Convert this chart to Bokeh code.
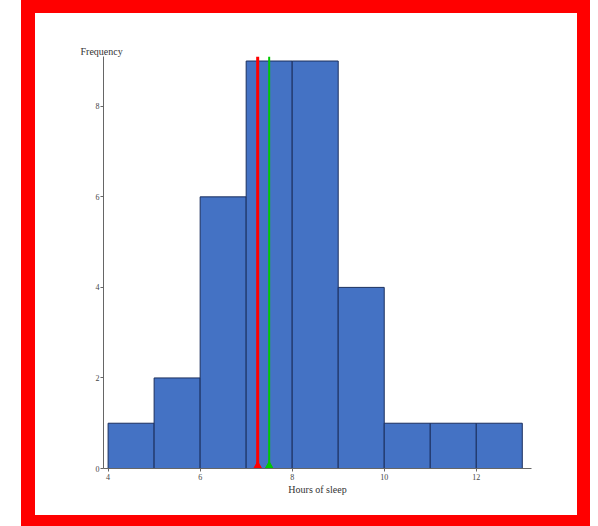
from bokeh.plotting import figure
from bokeh.layouts import column
from bokeh.models import FixedTicker, Title, Range1d
from bokeh.embed import file_html
from bokeh.resources import INLINE

# ---- data ----
bin_left = [4, 5, 6, 7, 8, 9, 10, 11, 12]
bin_right = [5, 6, 7, 8, 9, 10, 11, 12, 13]
frequency = [1, 2, 6, 9, 9, 4, 1, 1, 1]
x_ticks = [4, 6, 8, 10, 12]
y_ticks = [0, 2, 4, 6, 8]
stat_values = [7.25, 7.5]          # red marker, green marker
x_title = "Hours of sleep"
y_title = "Frequency"

# ---- styles ----
stat_colors = ["#ff0000", "#00c800"]
stat_widths = [3, 2]
SERIF = "Liberation Serif"
Y_TOP = 9.1

p = figure(width=542, height=502,
           x_range=Range1d(3.9, 13.2), y_range=Range1d(0, Y_TOP),
           output_backend="svg", toolbar_location=None,
           min_border_left=68, min_border_right=46,
           min_border_top=43, min_border_bottom=47,
           styles={"background-color": "white"})

p.background_fill_color = "white"
p.border_fill_color = "white"
p.outline_line_color = None
p.xgrid.visible = False
p.ygrid.visible = False

p.quad(left=bin_left, right=bin_right, bottom=0, top=frequency,
       fill_color="#4472c4", line_color="#1b2f5e", line_width=1)

for xv, c, w in zip(stat_values, stat_colors, stat_widths):
    p.segment(x0=[xv], y0=[0], x1=[xv], y1=[Y_TOP], line_color=c, line_width=w)
p.scatter(x=stat_values, y=[0] * len(stat_values), marker="triangle",
          size=12, fill_color=stat_colors, line_color=stat_colors)

for ax in (p.xaxis[0], p.yaxis[0]):
    ax.axis_line_color = "#666666"
    ax.major_tick_line_color = "#666666"
    ax.minor_tick_line_color = None
    ax.major_tick_in = 0
    ax.major_tick_out = 3
    ax.major_label_text_font = SERIF
    ax.major_label_text_font_size = "8px"
    ax.major_label_text_color = "#444444"

p.xaxis.ticker = FixedTicker(ticks=x_ticks)
p.yaxis.ticker = FixedTicker(ticks=y_ticks)
p.xaxis.major_label_standoff = 2
p.yaxis.major_label_standoff = 1
p.xaxis.axis_label = x_title
p.xaxis.axis_label_text_font = SERIF
p.xaxis.axis_label_text_font_size = "10px"
p.xaxis.axis_label_text_font_style = "normal"
p.xaxis.axis_label_text_color = "#333333"
p.xaxis.axis_label_standoff = 1

p.add_layout(Title(text=y_title, text_font=SERIF, text_font_size="10px",
                   text_font_style="normal", text_color="#333333",
                   align="left", offset=-23, standoff=0), "above")

layout = column(p, margin=(0, 0, 0, 21),
                styles={"background-color": "#ff0000",
                        "padding": "13px 13px 11px 14px"})

open("out.html", "w").write(file_html(layout, INLINE))
